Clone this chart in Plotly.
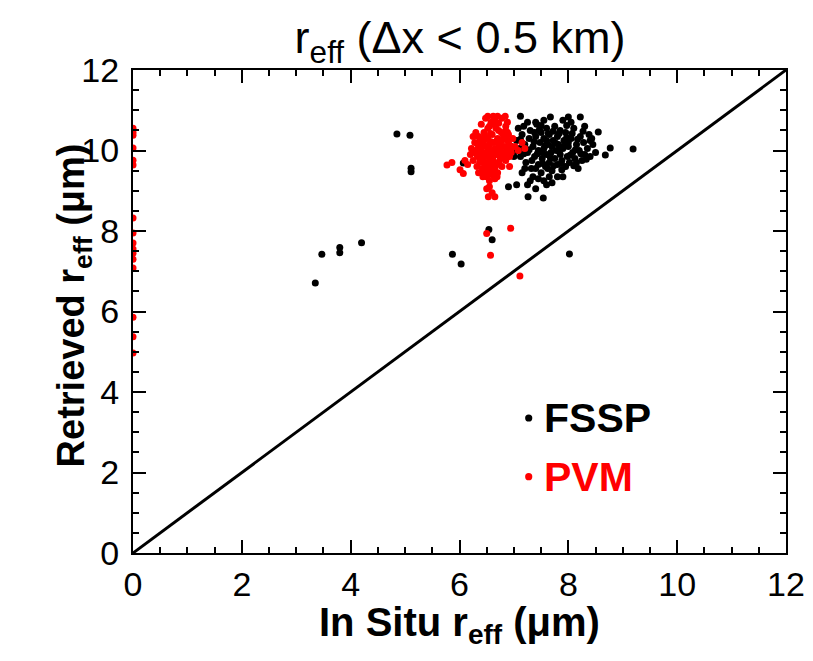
import plotly.graph_objects as go

# ---------------- data ----------------
fssp_x = [3.35, 3.47, 3.80, 3.80, 4.20, 4.85, 5.09, 5.11, 5.11, 5.87, 6.03, 6.54, 6.60, 8.02,
          6.38, 6.07, 9.19, 8.77, 8.68, 8.55, 7.67, 8.00, 8.22, 7.26, 7.54,
          7.05, 7.10, 7.12, 7.15, 7.18, 7.20, 7.22, 7.25, 7.28, 7.30, 7.32, 7.35, 7.38, 7.40,
          7.42, 7.45, 7.45, 7.48, 7.50, 7.50, 7.52, 7.55, 7.55, 7.58, 7.60, 7.60, 7.62, 7.65,
          7.65, 7.68, 7.70, 7.70, 7.72, 7.75, 7.75, 7.78, 7.80, 7.80, 7.82, 7.85, 7.85, 7.88,
          7.90, 7.92, 7.95, 7.95, 7.98, 8.00, 8.02, 8.05, 8.08, 8.10, 8.12, 8.15, 8.18, 8.20,
          8.22, 8.25, 8.28, 8.30, 8.35, 8.38, 8.40, 8.45, 8.50,
          7.15, 7.35, 7.45, 7.55, 7.65, 7.80, 7.90, 7.25, 7.05, 6.90, 7.40, 7.60,
          7.00, 6.95, 7.08, 7.25, 7.40, 7.55, 7.90, 8.05, 8.30, 8.40, 7.30, 7.70, 7.12,
          7.33, 7.37, 7.43, 7.47, 7.53, 7.57, 7.63, 7.67, 7.73, 7.77, 7.83, 7.87, 7.93, 7.97,
          8.03, 8.07, 8.13, 8.17, 8.23, 8.27, 7.28, 7.40, 7.62, 7.88, 8.10, 7.20, 7.12, 7.50,
          7.72, 7.97, 8.33, 8.43, 7.02, 7.18, 7.60, 7.85, 8.00, 7.52, 7.38, 8.15]
fssp_y = [6.71, 7.42, 7.59, 7.46, 7.71, 10.41, 10.38, 9.56, 9.47, 7.42, 7.18, 8.04, 7.78, 7.43,
          10.19, 9.69, 10.04, 10.06, 9.89, 10.46, 10.83, 10.83, 10.83, 8.85, 8.82,
          10.25, 10.05, 9.85, 10.40, 10.60, 10.15, 9.70, 9.95, 10.30, 10.50, 9.55, 10.10, 9.85, 10.35,
          10.65, 9.65, 10.00, 10.20, 9.45, 10.45, 9.80, 10.05, 10.30, 9.60, 9.90, 10.55, 10.15, 9.70,
          10.40, 9.95, 10.10, 9.50, 10.25, 9.80, 10.60, 10.00, 9.65, 10.35, 10.15, 9.90, 10.50, 9.75,
          10.05, 10.25, 9.60, 10.45, 9.85, 10.10, 9.70, 10.30, 9.95, 10.55, 9.80, 10.15, 9.55, 10.00,
          10.35, 9.75, 10.20, 9.90, 10.05, 10.40, 9.85, 10.15, 9.95,
          9.45, 9.35, 9.30, 9.25, 9.35, 9.35, 9.35, 9.15, 9.15, 9.10, 9.05, 9.15,
          9.85, 10.10, 10.55, 10.70, 10.70, 10.75, 10.75, 10.70, 10.60, 10.25, 9.25, 9.20, 10.85,
          9.75, 10.22, 9.92, 10.52, 9.68, 10.12, 10.42, 9.82, 9.62, 10.18, 10.42, 9.68, 10.12, 10.32,
          9.88, 10.42, 10.02, 10.28, 9.92, 10.48, 10.02, 9.55, 9.55, 9.52, 9.62, 9.55, 10.28, 10.62,
          10.48, 10.62, 9.78, 10.30, 9.98, 9.92, 10.25, 10.05, 10.20, 9.95, 10.45, 9.70]

pvm_x = [0.0] * 16 + [
    6.20, 6.22, 6.25, 6.28, 6.30, 6.32, 6.35, 6.35, 6.38, 6.40, 6.42, 6.42, 6.45, 6.45, 6.48,
    6.50, 6.50, 6.52, 6.55, 6.55, 6.55, 6.58, 6.60, 6.60, 6.62, 6.62, 6.65, 6.65, 6.65, 6.68,
    6.70, 6.70, 6.72, 6.72, 6.75, 6.75, 6.78, 6.78, 6.80, 6.80, 6.82, 6.85, 6.85, 6.88, 6.90,
    6.92, 6.95, 6.98, 7.02, 7.08, 7.15, 7.20,
    6.48, 6.52, 6.58, 6.62, 6.70, 6.78, 6.84, 6.88, 6.40,
    6.45, 6.50, 6.55, 6.60, 6.65, 6.70, 6.55, 6.50, 6.60, 6.53, 6.65, 6.43, 6.69,
    5.77, 5.86, 6.01, 6.07, 6.10, 6.15,
    6.50, 6.94, 6.57, 7.11,
    6.30, 6.35, 6.92, 6.25, 6.88,
    6.27, 6.33, 6.37, 6.43, 6.47, 6.53, 6.57, 6.63, 6.67, 6.73, 6.77, 6.83, 6.87, 6.93,
    6.33, 6.47, 6.57, 6.67, 6.77, 6.87, 6.40, 6.52, 6.62, 6.72, 6.58, 6.68, 6.48, 6.38,
    6.82, 6.95, 6.60, 6.45, 6.75, 6.52, 6.42, 6.85, 6.63, 6.30, 6.90, 6.55]
pvm_y = [10.55, 10.45, 10.38, 10.06, 9.76, 9.64, 8.32, 7.95, 7.70, 7.55, 7.45, 7.30, 7.08,
         5.86, 5.37, 4.97] + [
    9.90, 10.05, 9.75, 10.20, 9.95, 9.60, 10.10, 10.35, 9.80, 10.00, 9.55, 10.25, 9.85, 10.45, 10.10,
    9.70, 9.95, 10.30, 9.60, 10.15, 10.60, 9.85, 10.00, 10.40, 9.75, 10.20, 9.55, 10.05, 10.75, 9.90,
    10.30, 9.65, 10.10, 10.50, 9.80, 10.00, 10.25, 9.60, 9.90, 10.40, 10.10, 9.75, 10.60, 10.00, 10.20,
    9.85, 10.05, 10.30, 10.10, 10.00, 10.20, 10.05,
    10.80, 10.85, 10.70, 10.85, 10.85, 10.80, 10.85, 10.70, 10.65,
    9.45, 9.35, 9.25, 9.40, 9.30, 9.45, 9.10, 9.05, 8.95, 8.85, 8.85, 9.35, 9.35,
    9.64, 9.70, 9.52, 9.43, 9.75, 9.65,
    7.94, 8.07, 7.40, 6.88,
    10.45, 9.45, 9.60, 10.35, 10.45,
    9.95, 10.18, 9.70, 10.12, 9.62, 10.05, 10.42, 9.88, 10.22, 9.72, 10.45, 9.95, 10.28, 10.12,
    9.85, 10.35, 9.78, 10.55, 9.85, 9.85, 9.90, 9.50, 10.65, 10.68, 10.22, 10.02, 9.85, 10.30,
    10.30, 9.95, 9.65, 10.25, 10.15, 10.55, 9.72, 10.50, 9.50, 10.00, 10.40, 9.95]

one_to_one = [0, 12]
series_names = ["FSSP", "PVM"]
series_colors = ["black", "red"]
tick_vals = [0, 2, 4, 6, 8, 10, 12]

# ---------------- figure ----------------
FONT = "Liberation Sans, Arial, Helvetica, sans-serif"

fig = go.Figure()
fig.add_trace(go.Scatter(x=one_to_one, y=one_to_one, mode="lines",
                         line=dict(color="black", width=3), hoverinfo="skip", showlegend=False))
fig.add_trace(go.Scatter(x=fssp_x, y=fssp_y, mode="markers", name=series_names[0],
                         marker=dict(color=series_colors[0], size=7, line=dict(width=0)),
                         showlegend=False))
fig.add_trace(go.Scatter(x=pvm_x, y=pvm_y, mode="markers", name=series_names[1],
                         marker=dict(color=series_colors[1], size=7, line=dict(width=0)),
                         showlegend=False))

axis_common = dict(
    range=[0, 12], tickvals=tick_vals, ticktext=[str(v) for v in tick_vals],
    ticks="inside", ticklen=13, tickwidth=2, tickcolor="black",
    minor=dict(dtick=0.5, ticks="inside", ticklen=6, tickwidth=2, tickcolor="black"),
    showline=True, linewidth=2, linecolor="black", mirror="ticks",
    showgrid=False, zeroline=False,
    tickfont=dict(family=FONT, size=34, color="black"),
)

fig.update_xaxes(**axis_common, ticklabelstandoff=0)
fig.update_yaxes(**axis_common, ticklabelstandoff=5)

# axis titles as annotations for precise placement
fig.add_annotation(xref="paper", yref="paper", x=0.5, y=-0.149, xanchor="center", yanchor="middle",
                   text="<b>In Situ r<sub>eff</sub> (μm)</b>", showarrow=False,
                   font=dict(family=FONT, size=40, color="black"))
fig.add_annotation(xref="paper", yref="paper", x=-0.090, y=0.513, xanchor="center", yanchor="middle",
                   text="<b>Retrieved r<sub>eff</sub> (μm)</b>", showarrow=False, textangle=-90,
                   font=dict(family=FONT, size=38, color="black"))

# legend as text + dot
legend_y = [0.2795, 0.158]
for name, color, ly in zip(series_names, series_colors, legend_y):
    fig.add_annotation(xref="paper", yref="paper", x=0.627, y=ly, xanchor="left", yanchor="middle",
                       text=f"<b>{name}</b>", showarrow=False,
                       font=dict(family=FONT, size=41, color=color))
    fig.add_shape(type="circle", xref="paper", yref="paper",
                  x0=0.606 - 0.0055, x1=0.606 + 0.0055, y0=ly - 0.0075, y1=ly + 0.0075,
                  fillcolor=color, line=dict(width=0))

# the page body adds an 8 px offset, so the margins are reduced by 8 px on top/left
fig.update_layout(
    width=813, height=661,
    margin=dict(l=125, r=35, t=62, b=116),
    paper_bgcolor="white", plot_bgcolor="white",
    title=dict(text="r<sub>eff</sub> (Δx < 0.5 km)", x=0.556, xanchor="center",
               y=0.955, yanchor="middle",
               font=dict(family=FONT, size=45, color="black")),
)

fig.write_html("out.html")
